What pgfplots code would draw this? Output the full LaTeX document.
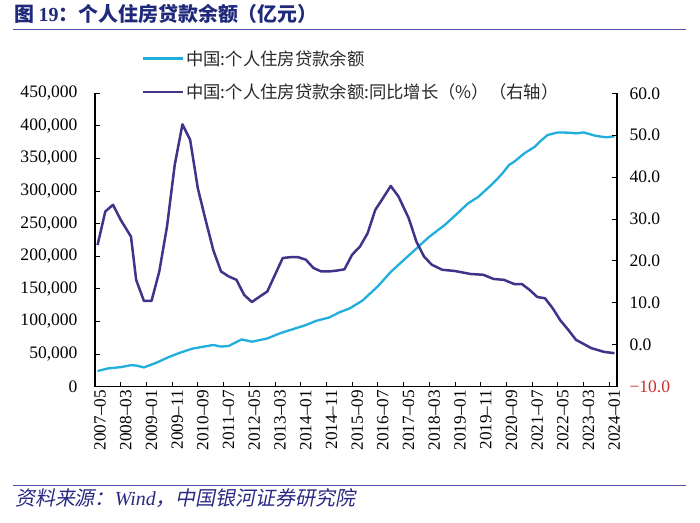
\documentclass[border=0pt]{standalone}
\usepackage{fontspec}
\setmainfont{Liberation Serif}
\newfontfamily\cjk{Noto Sans CJK SC}
\newfontfamily\cjkit[FakeSlant=0.2]{Noto Sans CJK SC}
\usepackage{pgfplots}
\pgfplotsset{compat=1.18}
\definecolor{cyanl}{RGB}{32,174,222}
\definecolor{purp}{RGB}{62,52,138}
\definecolor{titleblue}{RGB}{32,42,122}
\definecolor{rulec}{RGB}{80,80,170}
\definecolor{negred}{RGB}{205,45,45}
\definecolor{lgtext}{RGB}{40,40,40}
\definecolor{srcblue}{RGB}{40,40,130}

\pgfplotstableread{
x y
1 24000
5 28000
10 30000
14 33000
16 32500
19 29500
24 37000
29 46000
33 52000
38 58500
46 64000
49 61500
52 62500
57 72500
61 69000
67 74000
72 82000
78 89500
82 94500
86 101000
91 106000
95 114000
99 120000
104 132000
110 154000
115 176000
120 194000
125 212000
130 230000
136 248000
141 266000
145 281000
149 291000
154 309000
158 325000
161 340000
163 345000
167 358000
171 368000
173 376000
176 386000
180 390000
185 389500
187 388500
190 390000
195 384500
199 382500
202 384000
}\balance

\pgfplotstableread{
x y
1 23.8
4 31.8
7 33.4
10 29.8
14 25.8
16 15.5
19 10.5
22 10.5
25 17.5
28 28.2
31 42.9
34 52.6
37 48.9
40 37.3
43 29.8
46 22.6
49 17.5
52 16.3
55 15.5
58 11.9
61 10.2
65 11.9
67 12.7
70 16.7
73 20.7
76 20.9
79 20.9
82 20.3
85 18.3
88 17.5
91 17.5
94 17.7
97 18.0
100 21.5
103 23.4
106 26.6
109 32.2
112 35.0
115 37.9
118 35.4
122 30.2
125 24.6
128 21.0
131 19.1
135 17.9
140 17.6
146 16.9
151 16.7
155 15.7
159 15.5
163 14.5
166 14.5
169 13.1
172 11.4
175 11.1
178 8.7
181 5.8
184 3.6
187 1.2
193 -0.8
198 -1.7
202 -2.0
}\growth

\begin{document}
\begin{tikzpicture}
\path (0bp,0bp) rectangle (700bp,523bp);
% title
\node[anchor=west, text=titleblue, inner sep=0pt] at (14bp,509bp)
  {\fontsize{20}{23}\selectfont\cjk\bfseries 图 {\rmfamily\bfseries 19}：个人住房贷款余额（亿元）};
\draw[rulec, line width=1bp] (13bp,493.5bp) -- (686bp,493.5bp);
% source
\draw[rulec, line width=1bp] (13bp,37.3bp) -- (686bp,37.3bp);
\node[anchor=west, text=srcblue, inner sep=0pt] at (15bp,25bp)
  {\fontsize{20}{23}\selectfont\cjkit 资料来源：{\rmfamily\itshape Wind}\cjkit，中国银河证券研究院};

\begin{axis}[
  at={(95bp,136.3bp)}, anchor=south west,
  scale only axis, width=522bp, height=293.4bp,
  xmin=0, xmax=203, ymin=0, ymax=450000,
  axis x line*=bottom, axis y line*=left,
  axis line style={-, black, line width=1.3bp},
  tick style={black, line width=1bp},
  tick align=inside, major tick length=5bp,
  xtick={0,10,...,200},
  xticklabels={2007–05,2008–03,2009–01,2009–11,2010–09,2011–07,2012–05,2013–03,2014–01,2014–11,2015–09,2016–07,2017–05,2018–03,2019–01,2019–11,2020–09,2021–07,2022–05,2023–03,2024–01},
  xticklabel style={rotate=90, anchor=east, font=\fontsize{17.2}{19}\selectfont, yshift=-5bp},
  ytick={0,50000,...,450000},
  scaled y ticks=false,
  yticklabel style={font=\fontsize{17.6}{19}\selectfont, xshift=-14bp, /pgf/number format/.cd, fixed, 1000 sep={,}},
  /pgf/number format/assume math mode=true,
]
\addplot[cyanl, line width=2.3bp, line join=round] table[x=x,y=y] {\balance};
\end{axis}

\begin{axis}[
  at={(95bp,136.3bp)}, anchor=south west,
  scale only axis, width=522bp, height=293.4bp,
  xmin=0, xmax=203, ymin=-10, ymax=60,
  axis x line=none, axis y line*=right,
  axis line style={-, black, line width=1.3bp},
  tick style={black, line width=1bp},
  tick align=inside, major tick length=5bp,
  ytick={-10,0,...,60},
  yticklabels={{\color{negred}−10.0},0.0,10.0,20.0,30.0,40.0,50.0,60.0},
  yticklabel style={font=\fontsize{17.6}{19}\selectfont, xshift=9bp},
  legend style={at={(0.09,1.152)}, anchor=north west, draw=none, fill=none,
    font=\cjk\fontsize{17.4}{20}\selectfont, text=lgtext, row sep=14bp, inner sep=0pt,
    nodes={inner sep=1.5bp}},
  legend cell align=left,
  legend image code/.code={\draw[#1] (0bp,0bp) -- (40bp,0bp);},
]
\addlegendimage{cyanl, line width=2.3bp}
\addlegendentry{中国:个人住房贷款余额}
\addplot[purp, line width=2.5bp, line join=round] table[x=x,y=y] {\growth};
\addlegendentry{中国:个人住房贷款余额:同比增长（\%）（右轴）}
\end{axis}
\end{tikzpicture}
\end{document}
